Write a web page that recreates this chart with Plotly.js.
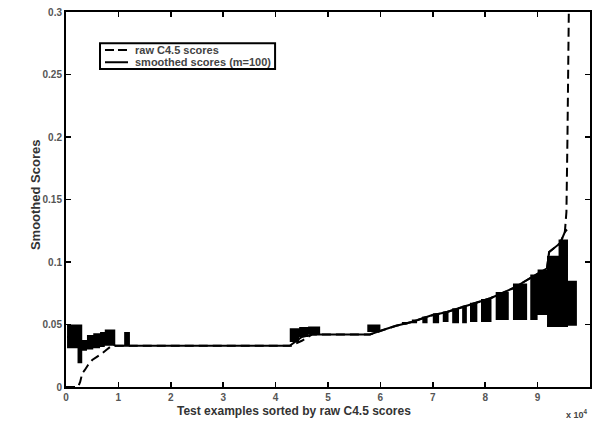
<!DOCTYPE html>
<html>
<head>
<meta charset="utf-8">
<script src="https://cdn.plot.ly/plotly-3.0.1.min.js"></script>
<style>html,body{margin:0;padding:0;background:#fff;}#chart{width:592px;height:422px;}</style>
</head>
<body>
<div id="chart"></div>
<script>
// x values in units of 10^4 test examples
const rawX = [0, 0.23, 0.27, 0.31, 0.36, 0.42, 0.5, 0.59, 0.69, 0.78, 0.84, 0.95, 4.3, 4.5, 4.7, 5.8, 6.0, 6.3, 6.6, 6.95, 7.27, 7.71, 7.9, 8.1, 8.53, 8.85, 9.18, 9.22, 9.43, 9.52, 9.55, 9.57, 9.585, 9.6, 9.7, 9.75];
const rawY = [0, 0, 0.004, 0.011, 0.0136, 0.0176, 0.0216, 0.024, 0.027, 0.030, 0.032, 0.033, 0.033, 0.037, 0.042, 0.042, 0.045, 0.049, 0.052, 0.057, 0.060, 0.066, 0.068, 0.071, 0.079, 0.087, 0.095, 0.108, 0.115, 0.124, 0.14, 0.2, 0.3, 0.4, 0.6, 0.9];

const smoothX = [0.02, 0.22, 0.31, 0.5, 0.74, 0.94, 4.27, 4.5, 4.7, 5.8, 6.0, 6.3, 6.6, 6.95, 7.27, 7.71, 7.9, 8.1, 8.53, 8.85, 9.18, 9.22, 9.43, 9.52, 9.56];
const smoothY = [0.040, 0.040, 0.034, 0.037, 0.040, 0.033, 0.033, 0.040, 0.042, 0.042, 0.045, 0.049, 0.052, 0.057, 0.060, 0.066, 0.068, 0.071, 0.079, 0.087, 0.095, 0.108, 0.115, 0.124, 0.126];

// oscillation range of the smoothed scores (low / high), held from each x to the next
const bandX = [0.02, 0.22, 0.31, 0.40, 0.52, 0.65, 0.74, 0.94, 1.11, 1.22,
  4.27, 4.45, 4.62, 4.85,
  5.75, 6.00,
  6.41, 6.52, 6.60, 6.70, 6.80, 6.90, 7.00, 7.12, 7.19, 7.30,
  7.37, 7.50, 7.56, 7.65, 7.71, 7.85, 7.92, 8.12, 8.20, 8.45,
  8.53, 8.80, 8.86, 9.00, 9.18, 9.40, 9.58, 9.75];
const bandLo = [0.031, 0.019, 0.029, 0.030, 0.031, 0.032, 0.033, 0.033, 0.033, 0.033,
  0.036, 0.040, 0.042, 0.042,
  0.044, 0.045,
  0.050, 0.052, 0.051, 0.054, 0.051, 0.056, 0.051, 0.058, 0.052, 0.060,
  0.051, 0.062, 0.051, 0.065, 0.052, 0.067, 0.052, 0.071, 0.0536, 0.077,
  0.0536, 0.084, 0.0536, 0.0576, 0.048, 0.048, 0.049, 0.050];
const bandHi = [0.050, 0.050, 0.0376, 0.0416, 0.043, 0.044, 0.046, 0.033, 0.044, 0.033,
  0.047, 0.048, 0.0485, 0.042,
  0.050, 0.045,
  0.052, 0.052, 0.054, 0.054, 0.0565, 0.056, 0.059, 0.058, 0.0605, 0.060,
  0.063, 0.062, 0.065, 0.065, 0.0675, 0.067, 0.0705, 0.071, 0.076, 0.077,
  0.0828, 0.084, 0.090, 0.094, 0.105, 0.118, 0.085, 0.050];

const xTicks = [0,1,2,3,4,5,6,7,8,9,10];
const xTickText = ['0','1','2','3','4','5','6','7','8','9','10'];
const yTicks = [0,0.05,0.1,0.15,0.2,0.25,0.3];
const yTickText = ['0','0.05','0.1','0.15','0.2','0.25','0.3'];

const names = ['raw C4.5 scores', 'smoothed scores (m=100)'];

const FONT = 'Liberation Sans, Arial, sans-serif';

const traces = [
  {x: bandX, y: bandLo, mode: 'lines', line: {width: 0, shape: 'hv'}, showlegend: false, hoverinfo: 'skip'},
  {x: bandX, y: bandHi, mode: 'lines', line: {width: 0, shape: 'hv'}, fill: 'tonexty', fillcolor: '#000', showlegend: false, hoverinfo: 'skip'},
  {x: rawX, y: rawY, mode: 'lines', name: names[0], showlegend: false, line: {color: '#000', width: 2, dash: '9px,5px'}},
  {x: smoothX, y: smoothY, mode: 'lines', name: names[1], showlegend: false, line: {color: '#000', width: 2}}
];

// legend box geometry (paper coordinates)
const LG = {x0: 0.0649, x1: 0.399, y0: 0.848, y1: 0.917, lx0: 0.0744, lx1: 0.1183, tx: 0.1279, rows: [0.899, 0.866]};

const layout = {
  width: 592, height: 422,
  margin: {l: 66, r: 2, t: 12, b: 35},
  paper_bgcolor: '#fff', plot_bgcolor: '#fff',
  font: {family: FONT, color: '#333'},
  showlegend: false,
  xaxis: {
    range: [0, 10], tickmode: 'array', tickvals: xTicks, ticktext: xTickText,
    ticks: 'inside', ticklen: 5, tickwidth: 1.5, tickcolor: '#000',
    showline: true, linecolor: '#000', linewidth: 2, mirror: 'ticks',
    showgrid: false, zeroline: false,
    tickfont: {family: FONT, size: 10, color: '#555', weight: 'bold'}
  },
  yaxis: {
    range: [0, 0.3], tickmode: 'array', tickvals: yTicks, ticktext: yTickText,
    ticks: 'inside', ticklen: 5, tickwidth: 1.5, tickcolor: '#000',
    showline: true, linecolor: '#000', linewidth: 2, mirror: 'ticks',
    showgrid: false, zeroline: false,
    tickfont: {family: FONT, size: 10, color: '#555', weight: 'bold'}
  },
  shapes: [
    {type: 'rect', xref: 'paper', yref: 'paper', x0: LG.x0, x1: LG.x1, y0: LG.y0, y1: LG.y1,
     line: {color: '#000', width: 2}, fillcolor: '#fff'},
    {type: 'line', xref: 'paper', yref: 'paper', x0: LG.lx0, x1: LG.lx1, y0: LG.rows[0], y1: LG.rows[0],
     line: {color: '#000', width: 2, dash: '9px,4px'}},
    {type: 'line', xref: 'paper', yref: 'paper', x0: LG.lx0, x1: LG.lx1, y0: LG.rows[1], y1: LG.rows[1],
     line: {color: '#000', width: 2}}
  ],
  annotations: [
    {text: names[0], xref: 'paper', yref: 'paper', x: LG.tx, y: LG.rows[0], xanchor: 'left', yanchor: 'middle',
     showarrow: false, font: {family: FONT, size: 11, color: '#444', weight: 'bold'}},
    {text: names[1], xref: 'paper', yref: 'paper', x: LG.tx, y: LG.rows[1], xanchor: 'left', yanchor: 'middle',
     showarrow: false, font: {family: FONT, size: 11, color: '#444', weight: 'bold'}},
    {text: 'Test examples sorted by raw C4.5 scores', xref: 'paper', yref: 'paper',
     x: 0.435, y: -0.064, xanchor: 'center', yanchor: 'middle', showarrow: false,
     font: {family: FONT, size: 12, color: '#333', weight: 'bold'}},
    {text: 'Smoothed Scores', xref: 'paper', yref: 'paper', textangle: -90,
     x: -0.059, y: 0.512, xanchor: 'center', yanchor: 'middle', showarrow: false,
     font: {family: FONT, size: 13, color: '#333', weight: 'bold'}},
    {text: 'x 10<sup>4</sup>', xref: 'paper', yref: 'paper',
     x: 1, y: -0.072, xanchor: 'right', yanchor: 'middle', showarrow: false,
     font: {family: FONT, size: 9, color: '#444', weight: 'bold'}}
  ]
};

Plotly.newPlot('chart', traces, layout, {staticPlot: true, displayModeBar: false});
</script>
</body>
</html>
